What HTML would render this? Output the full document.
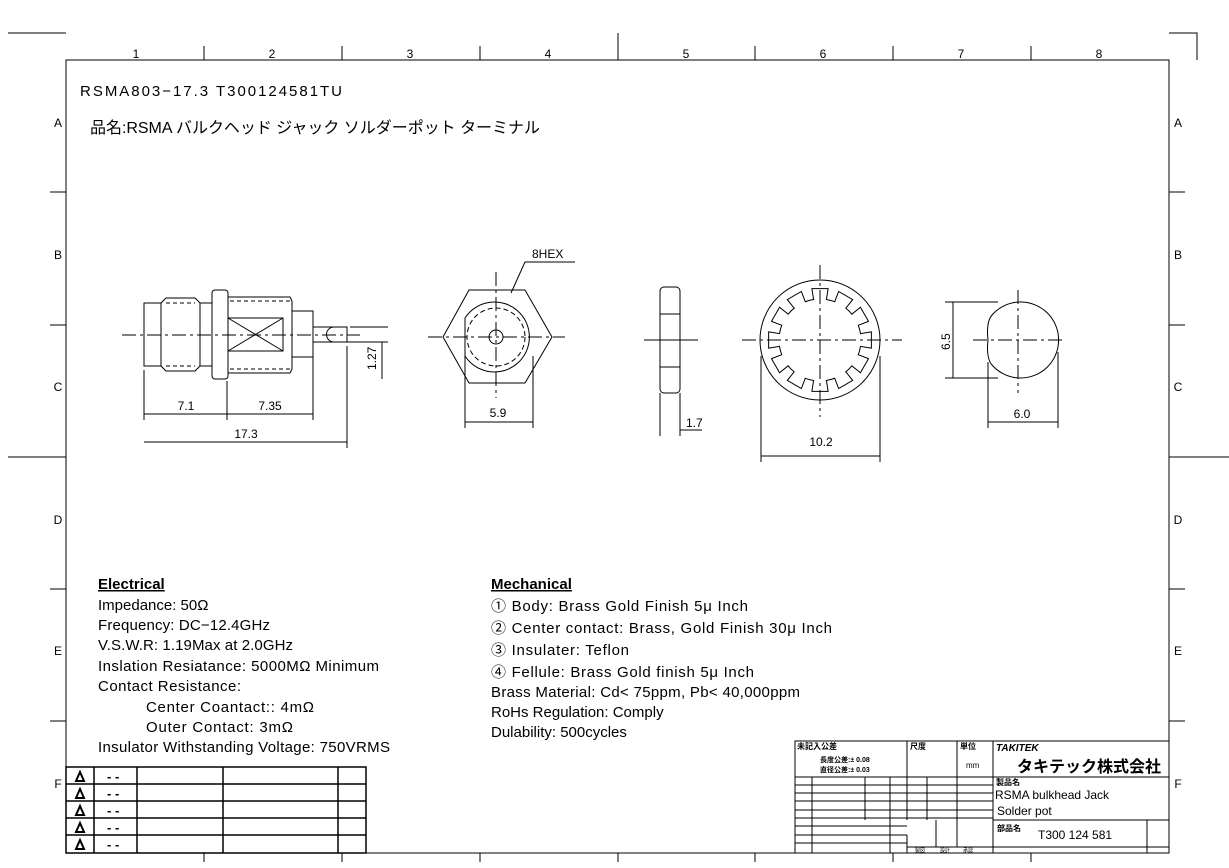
<!DOCTYPE html>
<html><head><meta charset="utf-8"><style>
body{margin:0;background:#fff;}
svg{display:block;font-family:"Liberation Sans","Noto Sans CJK JP",sans-serif;}
.t{font-size:14px;fill:#000}
</style></head><body>
<svg width="1229" height="868" viewBox="0 0 1229 868" xmlns="http://www.w3.org/2000/svg">
<g stroke="#000" fill="none" stroke-width="1">
<rect x="66" y="60" width="1103" height="793"/>
<path d="M8 33H66M1169 33H1197V60M618 33V60M8 457H66M1169 457H1229M50 192H66M50 325H66M50 589H66M50 721H66M1169 192H1185M1169 325H1185M1169 589H1185M1169 721H1185"/>
<path d="M204 46V60M342 46V60M480 46V60M755 46V60M893 46V60M1031 46V60M204 853V862M342 853V862M480 853V862M618 853V862M755 853V862M893 853V862M1031 853V862"/>
</g>
<g class="t" font-size="12" text-anchor="middle" style="font-size:12px">
<text x="136" y="58">1</text><text x="272" y="58">2</text><text x="410" y="58">3</text><text x="548" y="58">4</text><text x="686" y="58">5</text><text x="823" y="58">6</text><text x="961" y="58">7</text><text x="1099" y="58">8</text>
<text x="58" y="127">A</text><text x="58" y="259">B</text><text x="58" y="391">C</text><text x="58" y="524">D</text><text x="58" y="655">E</text><text x="58" y="788">F</text>
<text x="1178" y="127">A</text><text x="1178" y="259">B</text><text x="1178" y="391">C</text><text x="1178" y="524">D</text><text x="1178" y="655">E</text><text x="1178" y="788">F</text>
</g>
<text x="80" y="96" style="font-size:15px" textLength="262" lengthAdjust="spacing">RSMA803−17.3  T300124581TU</text>
<text x="90" y="133" style="font-size:16px" textLength="450" lengthAdjust="spacing">品名:RSMA  バルクヘッド  ジャック  ソルダーポット  ターミナル</text>

<!-- connector side view -->
<g stroke="#000" fill="none" stroke-width="1">
<path d="M122 335H360" stroke-dasharray="14,4,3,4"/>
<rect x="144" y="303" width="17" height="63"/>
<path d="M161 303L166 298H195L200 303V366L195 371H166L161 366"/>
<path d="M166 303H195M166 366H195" stroke-dasharray="4,3"/>
<rect x="200" y="303" width="12" height="63"/>
<rect x="212" y="290" width="16" height="89" rx="3"/>
<path d="M228 297H290L292 301V369L290 373H228"/>
<path d="M230 301H290M230 369H290" stroke-dasharray="4,3"/>
<rect x="228" y="318" width="55" height="33"/><path d="M228 318L283 351M228 351L283 318"/>
<rect x="292" y="311" width="21" height="46"/>
<path d="M313 327H347V342H313"/><path d="M334 327A7 7 0 0 0 334 342"/>
<path d="M350 327H388M350 342H388"/>
<path d="M144 370V420M227 381V420M313 357V420M347 346V448M144 414H313M144 442H347M347 342H382M382 342V379"/>
</g>
<g class="t" style="font-size:12px" text-anchor="middle"><text x="186" y="410">7.1</text><text x="270" y="410">7.35</text><text x="246" y="438">17.3</text></g>
<text x="376" y="370" transform="rotate(-90 376 370)" style="font-size:12px">1.27</text>

<!-- hex front -->
<g stroke="#000" fill="none">
<path d="M469 290H525L552 337L525 383H469L443 337Z"/>
<path d="M428 337H565" stroke-dasharray="14,4,3,4"/><path d="M496 272V398" stroke-dasharray="14,4,3,4"/>
<path d="M465 318A35 35 0 1 1 465 356Z"/>
<circle cx="496" cy="337" r="29" stroke-dasharray="5,3"/>
<circle cx="496" cy="337" r="7"/>
<path d="M465 356V428M533 356V428M465 422H533M511 293L525 262H575"/>
</g>
<text x="532" y="258" class="t" style="font-size:12px">8HEX</text>
<text x="498" y="417" class="t" style="font-size:12px" text-anchor="middle">5.9</text>

<!-- nut side -->
<g stroke="#000" fill="none">
<rect x="660" y="287" width="20" height="106" rx="4"/>
<path d="M660 314H680M660 367H680M644 340H698" />
<path d="M660 393V436M680 393V436M680 430H702"/>
</g>
<text x="686" y="427" class="t" style="font-size:12px">1.7</text>

<!-- washer -->
<g stroke="#000" fill="none">
<circle cx="820" cy="340" r="60"/>
<g id="tooth"><path d="M860.50 333.59L871.36 331.87V348.13L860.50 346.41A41 41 0 0 1 858.03 355.36"/></g>
<use href="#tooth" transform="rotate(30 820 340)"/><use href="#tooth" transform="rotate(60 820 340)"/><use href="#tooth" transform="rotate(90 820 340)"/><use href="#tooth" transform="rotate(120 820 340)"/><use href="#tooth" transform="rotate(150 820 340)"/><use href="#tooth" transform="rotate(180 820 340)"/><use href="#tooth" transform="rotate(210 820 340)"/><use href="#tooth" transform="rotate(240 820 340)"/><use href="#tooth" transform="rotate(270 820 340)"/><use href="#tooth" transform="rotate(300 820 340)"/><use href="#tooth" transform="rotate(330 820 340)"/>
<path d="M742 340H902M820 265V417" stroke-dasharray="14,4,3,4"/>
<path d="M761 356V462M880 356V462M761 456H880"/>
</g>
<text x="821" y="446" class="t" style="font-size:12px" text-anchor="middle">10.2</text>

<!-- D shape -->
<g stroke="#000" fill="none">
<path d="M992 315A38 38 0 1 1 992 365Q986 358 988 340Q986 322 992 315Z"/>
<path d="M973 340H1063M1018 290V393" stroke-dasharray="14,4,3,4"/>
<path d="M945 302H998M945 378H998M953 302V378M988 362V428M1058 352V428M988 422H1058"/>
</g>
<text x="950" y="350" transform="rotate(-90 950 350)" class="t" style="font-size:12px">6.5</text>
<text x="1022" y="418" class="t" style="font-size:12px" text-anchor="middle">6.0</text>

<!-- specs -->
<g class="t" style="font-size:15px" lengthAdjust="spacing">
<text x="98" y="589" font-weight="bold" text-decoration="underline">Electrical</text>
<text x="98" y="610">Impedance: 50Ω</text>
<text x="98" y="630" textLength="172">Frequency: DC−12.4GHz</text>
<text x="98" y="650" textLength="195">V.S.W.R: 1.19Max at 2.0GHz</text>
<text x="98" y="671" textLength="281">Inslation Resiatance: 5000MΩ  Minimum</text>
<text x="98" y="691" textLength="143">Contact Resistance:</text>
<text x="146" y="712" textLength="168">Center Coantact:: 4mΩ</text>
<text x="146" y="732" textLength="147">Outer Contact: 3mΩ</text>
<text x="98" y="752" textLength="292">Insulator Withstanding Voltage: 750VRMS</text>
<text x="491" y="589" font-weight="bold" text-decoration="underline">Mechanical</text>
<text x="491" y="611" textLength="257">① Body: Brass Gold Finish 5μ  Inch</text>
<text x="491" y="633" textLength="341">② Center contact: Brass, Gold Finish 30μ  Inch</text>
<text x="491" y="655" textLength="138">③ Insulater: Teflon</text>
<text x="491" y="677" textLength="263">④ Fellule: Brass Gold finish 5μ  Inch</text>
<text x="491" y="697" textLength="309">Brass Material: Cd&lt; 75ppm, Pb&lt; 40,000ppm</text>
<text x="491" y="717">RoHs Regulation: Comply</text>
<text x="491" y="737">Dulability: 500cycles</text>
</g>

<!-- revision table -->
<g stroke="#000" fill="none" stroke-width="1.5">
<rect x="66" y="767" width="300" height="86"/>
<path d="M66 784H366M66 801H366M66 818H366M66 835H366M94 767V853M137 767V853M223 767V853M338 767V853"/>
</g>
<g stroke="#000" fill="none" stroke-width="2">
<path d="M76 781L80 772L84 781Z"/><path d="M76 798L80 789L84 798Z"/><path d="M76 815L80 806L84 815Z"/><path d="M76 832L80 823L84 832Z"/><path d="M76 849L80 840L84 849Z"/>
</g>
<g class="t" style="font-size:13px;font-weight:bold">
<text x="107" y="781">- -</text><text x="107" y="798">- -</text><text x="107" y="815">- -</text><text x="107" y="832">- -</text><text x="107" y="849">- -</text>
</g>

<!-- title block -->
<g stroke="#000" fill="none">
<path d="M795 853V741H1169M795 777H993M907 741V820M957 741V820M993 741V853M795 785H993M795 793H993M795 801H993M795 810H993M795 818H993M795 826H907M795 835H907M795 843H907M993 777H1169M993 820H1169M993 847H1169M1147 820V853M812 777V853M865 777V820M890 777V853M927 777V820M907 835V853M936 820V847M957 820V847M907 847H993"/>
</g>
<g class="t">
<text x="797" y="749" style="font-size:8px;font-weight:bold">未記入公差</text>
<text x="820" y="762" style="font-size:7px;font-weight:bold">長度公差:±  0.08</text>
<text x="820" y="772" style="font-size:7px;font-weight:bold">直径公差:±  0.03</text>
<text x="910" y="749" style="font-size:8px;font-weight:bold">尺度</text>
<text x="960" y="749" style="font-size:8px;font-weight:bold">単位</text>
<text x="966" y="768" style="font-size:8px">mm</text>
<text x="996" y="751" style="font-size:10px;font-weight:bold;font-style:italic">TAKITEK</text>
<text x="1017" y="772" style="font-size:16px;font-weight:bold">タキテック株式会社</text>
<text x="996" y="785" style="font-size:8px;font-weight:bold">製品名</text>
<text x="995" y="799" style="font-size:12px">RSMA bulkhead Jack</text>
<text x="997" y="815" style="font-size:12px">Solder pot</text>
<text x="997" y="831" style="font-size:8px;font-weight:bold">部品名</text>
<text x="1038" y="839" style="font-size:12px">T300 124 581</text>
<text x="915" y="852" style="font-size:5px">製図</text><text x="940" y="852" style="font-size:5px">設計</text><text x="963" y="852" style="font-size:5px">承認</text>
</g>
</svg>
</body></html>
